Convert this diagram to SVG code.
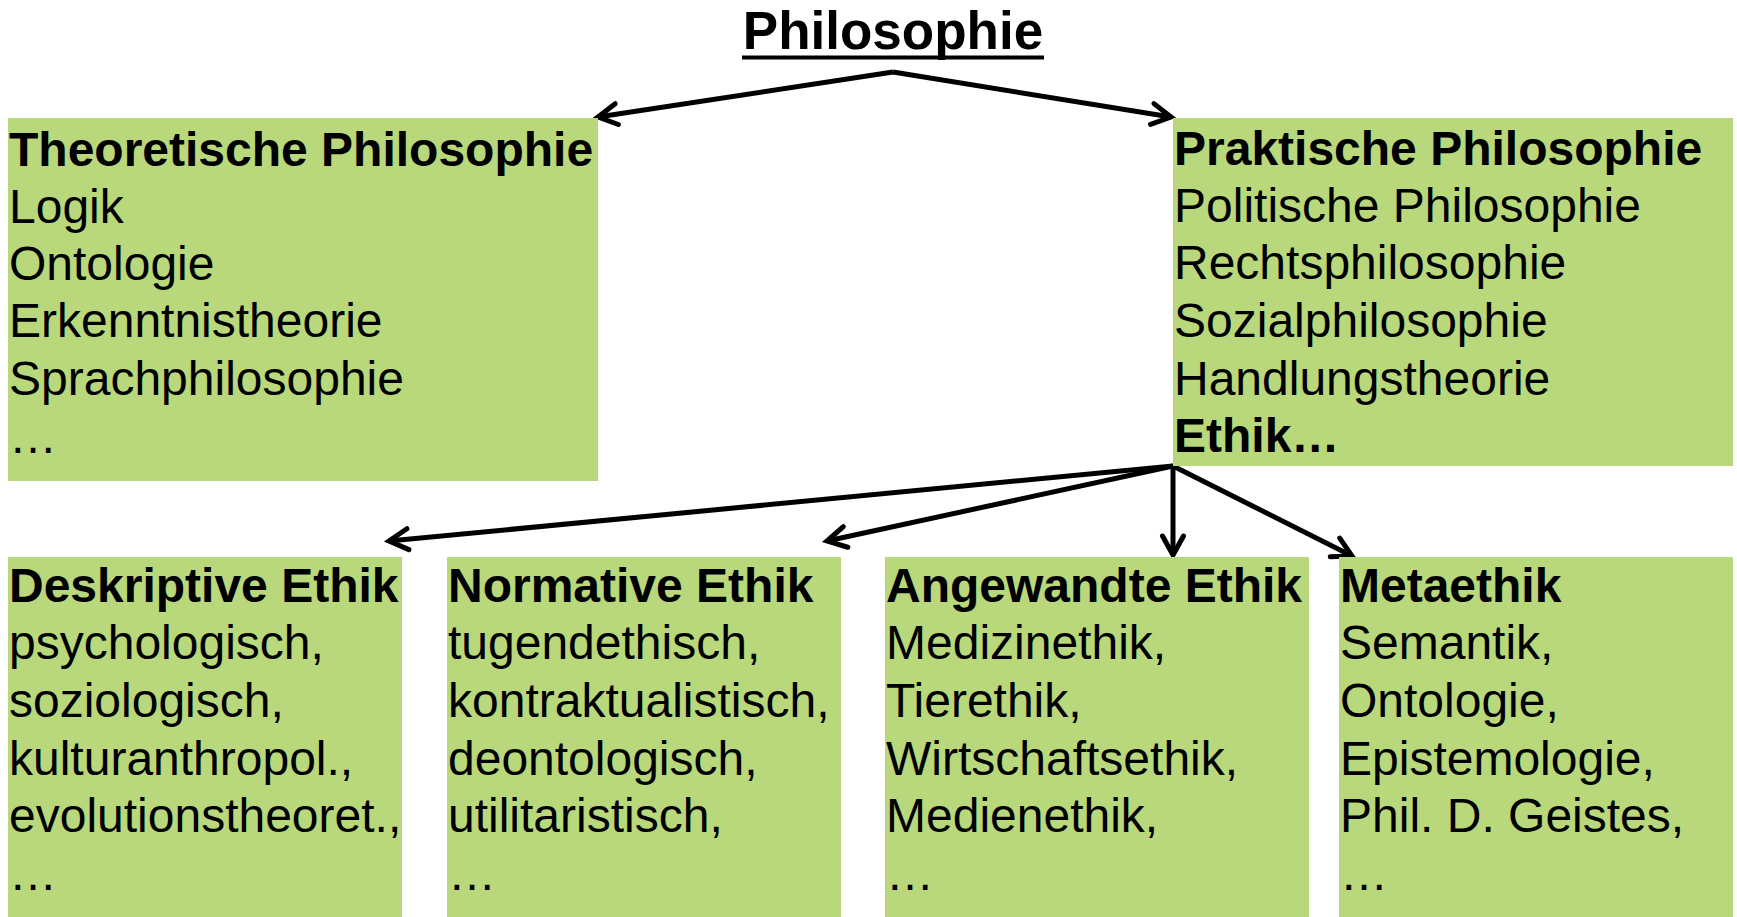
<svg xmlns="http://www.w3.org/2000/svg" width="1737" height="917" viewBox="0 0 1737 917">
<defs>
<style>
.box{fill:#B8D87B}
.t{font-family:"Liberation Sans",Arial,sans-serif;font-size:48px;fill:#000}
.b{font-weight:bold}
.conn{stroke:#000;stroke-width:5;fill:none;marker-end:url(#arr)}
</style>
<marker id="arr" markerUnits="userSpaceOnUse" markerWidth="34" markerHeight="34" viewBox="-25 -17 34 34" refX="0" refY="0" orient="auto">
<path d="M-19,-10.5 L0,0 L-19,10.5" fill="none" stroke="#000" stroke-width="5" stroke-linejoin="miter" stroke-linecap="round"/>
</marker>
</defs>
<rect width="1737" height="917" fill="#fff"/>
<g id="title">
<text x="893" y="49" text-anchor="middle" font-family="Liberation Sans, Arial, sans-serif" font-size="53" font-weight="bold">Philosophie</text>
<rect x="742" y="55.5" width="302" height="4" fill="#000"/>
</g>
<g id="connectors">
<line class="conn" x1="893" y1="72" x2="598" y2="117"/>
<line class="conn" x1="893" y1="72" x2="1171" y2="117"/>
<line class="conn" x1="1173" y1="466" x2="389" y2="541"/>
<line class="conn" x1="1173" y1="466" x2="827" y2="541"/>
<line class="conn" x1="1173" y1="466" x2="1173" y2="555"/>
<line class="conn" x1="1173" y1="466" x2="1352" y2="556"/>
</g>
<g id="theoretische">
<rect class="box" x="8" y="118" width="590" height="363"/>
<text class="t b" x="9" y="166">Theoretische Philosophie</text>
<text class="t" x="9" y="223">Logik</text>
<text class="t" x="9" y="280">Ontologie</text>
<text class="t" x="9" y="337">Erkenntnistheorie</text>
<text class="t" x="9" y="395">Sprachphilosophie</text>
<text class="t" x="9" y="453">…</text>
</g>
<g id="praktische">
<rect class="box" x="1173" y="118" width="560" height="348"/>
<text class="t b" x="1174" y="165">Praktische Philosophie</text>
<text class="t" x="1174" y="222">Politische Philosophie</text>
<text class="t" x="1174" y="279">Rechtsphilosophie</text>
<text class="t" x="1174" y="337">Sozialphilosophie</text>
<text class="t" x="1174" y="395">Handlungstheorie</text>
<text class="t b" x="1174" y="452">Ethik…</text>
</g>
<g id="deskriptive">
<rect class="box" x="8" y="557" width="394" height="360"/>
<text class="t b" x="9" y="602">Deskriptive Ethik</text>
<text class="t" x="9" y="659">psychologisch,</text>
<text class="t" x="9" y="717">soziologisch,</text>
<text class="t" x="9" y="775">kulturanthropol.,</text>
<text class="t" x="9" y="832">evolutionstheoret.,</text>
<text class="t" x="9" y="890">…</text>
</g>
<g id="normative">
<rect class="box" x="447" y="557" width="394" height="360"/>
<text class="t b" x="448" y="602">Normative Ethik</text>
<text class="t" x="448" y="659">tugendethisch,</text>
<text class="t" x="448" y="717">kontraktualistisch,</text>
<text class="t" x="448" y="775">deontologisch,</text>
<text class="t" x="448" y="832">utilitaristisch,</text>
<text class="t" x="448" y="890">…</text>
</g>
<g id="angewandte">
<rect class="box" x="885" y="557" width="424" height="360"/>
<text class="t b" x="886" y="602">Angewandte Ethik</text>
<text class="t" x="886" y="659">Medizinethik,</text>
<text class="t" x="886" y="717">Tierethik,</text>
<text class="t" x="886" y="775">Wirtschaftsethik,</text>
<text class="t" x="886" y="832">Medienethik,</text>
<text class="t" x="886" y="890">…</text>
</g>
<g id="metaethik">
<rect class="box" x="1339" y="557" width="394" height="360"/>
<text class="t b" x="1340" y="602">Metaethik</text>
<text class="t" x="1340" y="659">Semantik,</text>
<text class="t" x="1340" y="717">Ontologie,</text>
<text class="t" x="1340" y="775">Epistemologie,</text>
<text class="t" x="1340" y="832">Phil. D. Geistes,</text>
<text class="t" x="1340" y="890">…</text>
</g>
</svg>
